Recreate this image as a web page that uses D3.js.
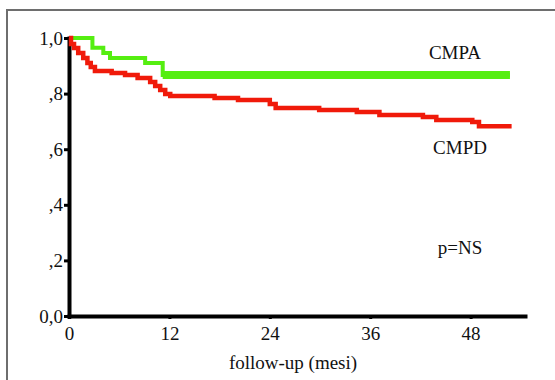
<!DOCTYPE html>
<html>
<head>
<meta charset="utf-8">
<script src="https://cdn.jsdelivr.net/npm/d3@7"></script>
<style>
  body { margin: 0; background: #fff; }
  svg { display: block; }
</style>
</head>
<body>
<svg id="chart"></svg>
<script>
// Kaplan-Meier style survival curves (months, proportion)
const cmpaTime = [0, 2.8, 4.1, 4.9, 9.1, 11.2, 52.7];
const cmpaSurv = [1.0, 0.965, 0.946, 0.928, 0.910, 0.867, 0.867];

const cmpdTime = [0, 0.24, 0.6, 1.1, 1.7, 2.2, 2.6, 3.1, 5.1, 6.7, 8.2, 9.7, 10.3, 10.9, 11.5, 12.1,
  17.4, 20.2, 24.0, 24.7, 29.9, 34.4, 37.1, 42.3, 43.9, 48.2, 49.0, 52.9];
const cmpdSurv = [1.0, 0.978, 0.964, 0.946, 0.928, 0.910, 0.896, 0.881, 0.874, 0.867, 0.856, 0.842, 0.827, 0.813, 0.799, 0.791,
  0.784, 0.777, 0.763, 0.748, 0.741, 0.734, 0.723, 0.716, 0.705, 0.698, 0.683, 0.683];

const xTicks = [0, 12, 24, 36, 48];
const yTicks = [0, 0.2, 0.4, 0.6, 0.8, 1.0];
const yTickLabels = ["0,0", ",2", ",4", ",6", ",8", "1,0"];

const width = 555;
const height = 380;

const svg = d3.select("#chart").attr("width", width).attr("height", height);

// outer frame (only top and left edges show in the picture)
svg.append("path")
  .attr("d", `M7,${height + 5} L7,10 L${width + 5},10`)
  .attr("fill", "none")
  .attr("stroke", "#6e6e6e")
  .attr("stroke-width", 2);

const x = d3.scaleLinear().domain([0, 54.5]).range([69, 525]);
const y = d3.scaleLinear().domain([0, 1]).range([316, 38]);

const font = "'Liberation Serif', 'Times New Roman', serif";

// y axis
const yAxis = svg.append("g")
  .attr("transform", `translate(${x(0)},0)`)
  .call(d3.axisLeft(y)
    .tickValues(yTicks)
    .tickSize(5)
    .tickSizeOuter(0)
    .tickPadding(1)
    .tickFormat((d, i) => yTickLabels[i]));

// x axis
const xAxis = svg.append("g")
  .attr("transform", `translate(0,${y(0)})`)
  .call(d3.axisBottom(x)
    .tickValues(xTicks)
    .tickSize(3)
    .tickSizeOuter(0)
    .tickPadding(8));

[yAxis, xAxis].forEach((ax) => {
  ax.select(".domain").attr("stroke", "#000").attr("stroke-width", 4).attr("stroke-linecap", "square");
  ax.selectAll(".tick line").attr("stroke", "#000").attr("stroke-width", 3);
  ax.selectAll(".tick text")
    .attr("fill", "#111")
    .style("font-family", font)
    .style("font-size", "19px");
});

const line = (times, surv) => d3.line()
  .x((d, i) => x(times[i]))
  .y((d) => y(d))
  .curve(d3.curveStepAfter)(surv);

// CMPA curve
svg.append("path")
  .attr("d", line(cmpaTime, cmpaSurv))
  .attr("fill", "none")
  .attr("stroke", "#55ee11")
  .attr("stroke-width", 4);

// thick final plateau (censored cases overlap here)
const n = cmpaTime.length;
svg.append("path")
  .attr("d", line(cmpaTime.slice(n - 2), cmpaSurv.slice(n - 2)))
  .attr("fill", "none")
  .attr("stroke", "#55ee11")
  .attr("stroke-width", 8);

// CMPD curve
svg.append("path")
  .attr("d", line(cmpdTime, cmpdSurv))
  .attr("fill", "none")
  .attr("stroke", "#f01a0a")
  .attr("stroke-width", 4.5);

// labels
const labels = [
  { text: "CMPA", x: 455, y: 52 },
  { text: "CMPD", x: 460, y: 147 },
  { text: "p=NS", x: 460, y: 247 },
  { text: "follow-up (mesi)", x: 293, y: 362 },
];

svg.selectAll("text.lbl")
  .data(labels)
  .enter()
  .append("text")
  .attr("class", "lbl")
  .attr("x", (d) => d.x)
  .attr("y", (d) => d.y)
  .attr("text-anchor", "middle")
  .attr("dominant-baseline", "central")
  .attr("fill", "#111")
  .style("font-family", font)
  .style("font-size", "19px")
  .text((d) => d.text);
</script>
</body>
</html>
